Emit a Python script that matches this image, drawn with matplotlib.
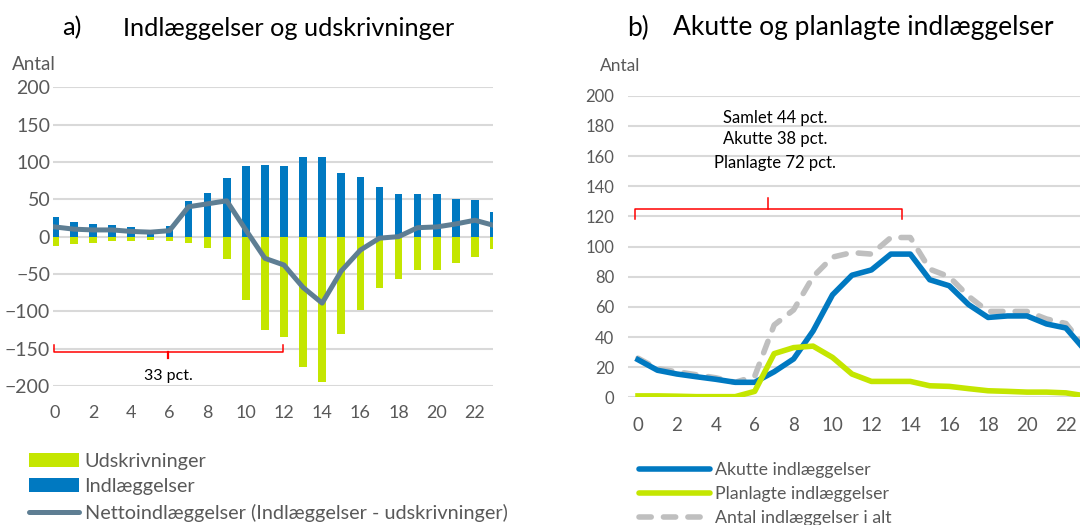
import matplotlib
matplotlib.use("Agg")
import matplotlib.pyplot as plt
from matplotlib.patches import Patch
from matplotlib.lines import Line2D

plt.rcParams['font.family'] = ['Lato', 'DejaVu Sans']

# ---------------- data ----------------
hours = list(range(24))
xtick_labels = [str(h) for h in range(0, 24, 2)]

# Panel a
indlaeggelser = [26, 20, 17, 15, 13, 9, 14, 48, 58, 78, 94, 96, 95, 106, 106, 85, 80, 67, 57, 57, 57, 51, 49, 33]
udskrivninger = [-13, -10, -8, -6, -6, -4, -6, -8, -15, -30, -85, -125, -134, -174, -195, -131, -98, -69, -57, -45, -44, -35, -27, -17]
netto = [13, 10, 9, 9, 7, 6, 8, 40, 44, 48, 9, -29, -38, -68, -89, -46, -18, -2, 0, 12, 13, 17, 22, 15]

# Panel b
akutte = [25, 18, 15.5, 13.7, 12, 10, 10, 17, 25.5, 44, 68, 81, 84.5, 95, 95, 78, 74, 61.5, 53, 54, 54, 48.7, 46, 31]
planlagte = [1, 1, 0.8, 0.5, 0.5, 0.5, 4, 29, 33, 34, 26.5, 15.5, 10.6, 10.6, 10.6, 7.7, 7.3, 5.8, 4.4, 4, 3.5, 3.5, 3, 1]
i_alt = [26, 19, 17, 15, 13, 10, 14, 48, 58, 80, 93, 96, 95, 106, 106, 85, 80, 67, 57, 57, 57, 52, 49, 33]

# ---------------- style ----------------
W, H = 1080, 525
BLUE = '#0079c1'
GREEN = '#c4e600'
SLATE = '#5e7e93'
GREY = '#bfbfbf'
GRID = '#d9d9d9'
TXT = '#595959'
RED = '#ff0000'

fig = plt.figure(figsize=(W / 100, H / 100), dpi=100)


def fx(px):
    return px / W


def fy(py):
    return 1 - py / H


def style_axes(ax):
    for s in ax.spines.values():
        s.set_visible(False)
    ax.grid(axis='y', color=GRID, linewidth=1.5)
    ax.set_axisbelow(True)
    ax.tick_params(length=0, colors=TXT)


# ---------------- panel a ----------------
l, r, t, b = 53, 493, 87.3, 386.0
axa = fig.add_axes([fx(l), fy(b), fx(r - l), (b - t) / H])
style_axes(axa)
axa.bar(hours, indlaeggelser, width=0.4, color=BLUE, zorder=2)
axa.bar(hours, udskrivninger, width=0.4, color=GREEN, zorder=2)
axa.plot(hours, netto, color=SLATE, linewidth=3.6, solid_joinstyle='round', zorder=3)
axa.set_xlim(-0.1, 22.95)
axa.set_ylim(-200, 200)
axa.set_yticks(range(-200, 201, 50))
axa.set_xticks(range(0, 24, 2))
axa.set_xticklabels(xtick_labels)
axa.tick_params(axis='y', labelsize=14, pad=2)
axa.tick_params(axis='x', labelsize=13, pad=14)

# bracket (panel a)
bx0, bx1, bxm = -0.05, 11.95, 5.95
by, byend, bytip = -154, -145, -163
axa.plot([bx0, bx0, bx1, bx1], [byend, by, by, byend], color=RED, lw=1.1, clip_on=False, zorder=4)
axa.plot([bxm, bxm], [by, bytip], color=RED, lw=1.6, clip_on=False, zorder=4)
axa.text(bxm, -186, '33 pct.', ha='center', va='center', fontsize=11.5, color='black')

# ---------------- panel b ----------------
xb0 = 638.0
sp = 19.45
lb = xb0 - 0.5 * sp
rb = lb + 24 * sp
tb, bb = 95.7, 397.4
axb = fig.add_axes([fx(lb), fy(bb), fx(rb - lb), (bb - tb) / H])
style_axes(axb)
axb.plot(hours, akutte, color=BLUE, linewidth=4, solid_joinstyle='round', zorder=3)
axb.plot(hours, planlagte, color=GREEN, linewidth=4, solid_joinstyle='round', zorder=3)
axb.plot(hours, i_alt, color=GREY, linewidth=4, dashes=(2.2, 2.2), dash_capstyle='round',
         dash_joinstyle='round', zorder=2)
axb.set_xlim(-0.5, 23.5)
axb.set_ylim(0, 200)
axb.set_yticks(range(0, 201, 20))
axb.set_xticks(range(0, 24, 2))
axb.set_xticklabels(xtick_labels)
axb.tick_params(axis='y', labelsize=12, pad=10)
axb.tick_params(axis='x', labelsize=13.5, pad=14)

# bracket (panel b)
cx0, cx1, cxm = -0.15, 13.55, 6.7
cy, cyend, cytip = 125.1, 118.1, 132.4
axb.plot([cx0, cx0, cx1, cx1], [cyend, cy, cy, cyend], color=RED, lw=1.1, clip_on=False, zorder=4)
axb.plot([cxm, cxm], [cy, cytip], color=RED, lw=1.1, clip_on=False, zorder=4)
for txt, py in [('Samlet 44 pct.', 117.7), ('Akutte 38 pct.', 139.3), ('Planlagte 72 pct.', 162.7)]:
    fig.text(fx(775), fy(py), txt, ha='center', va='center', fontsize=12, color='black')

# ---------------- titles & labels ----------------
fig.text(fx(62), fy(28), 'a)', ha='left', va='center', fontsize=18.2, color='black')
fig.text(fx(123), fy(28), 'Indlæggelser og udskrivninger', ha='left', va='center', fontsize=18.2, color='black')
fig.text(fx(627), fy(28), 'b)', ha='left', va='center', fontsize=19, color='black')
fig.text(fx(673), fy(28), 'Akutte og planlagte indlæggelser', ha='left', va='center', fontsize=19, color='black')
fig.text(fx(12), fy(64), 'Antal', ha='left', va='center', fontsize=13.5, color=TXT)
fig.text(fx(600), fy(66), 'Antal', ha='left', va='center', fontsize=12.5, color=TXT)

# ---------------- legends ----------------
handles_a = [Patch(facecolor=GREEN, edgecolor='none'),
             Patch(facecolor=BLUE, edgecolor='none'),
             Line2D([0], [0], color=SLATE, lw=3.6, solid_capstyle='round')]
labels_a = ['Udskrivninger', 'Indlæggelser', 'Nettoindlæggelser (Indlæggelser - udskrivninger)']
fig.legend(handles_a, labels_a, loc='upper left', bbox_to_anchor=(fx(29), fy(453)),
           frameon=False, fontsize=14.3, handlelength=2.5, handletextpad=0.3,
           labelspacing=0.42, borderpad=0, borderaxespad=0, labelcolor=TXT)

handles_b = [Line2D([0], [0], color=BLUE, lw=4, solid_capstyle='round'),
             Line2D([0], [0], color=GREEN, lw=4, solid_capstyle='round'),
             Line2D([0], [0], color=GREY, lw=4, dashes=(2.2, 2.2), dash_capstyle='round')]
labels_b = ['Akutte indlæggelser', 'Planlagte indlæggelser', 'Antal indlæggelser i alt']
fig.legend(handles_b, labels_b, loc='upper left', bbox_to_anchor=(fx(639), fy(462)),
           frameon=False, fontsize=12.8, handlelength=4.0, handletextpad=0.3,
           labelspacing=0.45, borderpad=0, borderaxespad=0, labelcolor=TXT)

fig.savefig('out.png', dpi=100)
